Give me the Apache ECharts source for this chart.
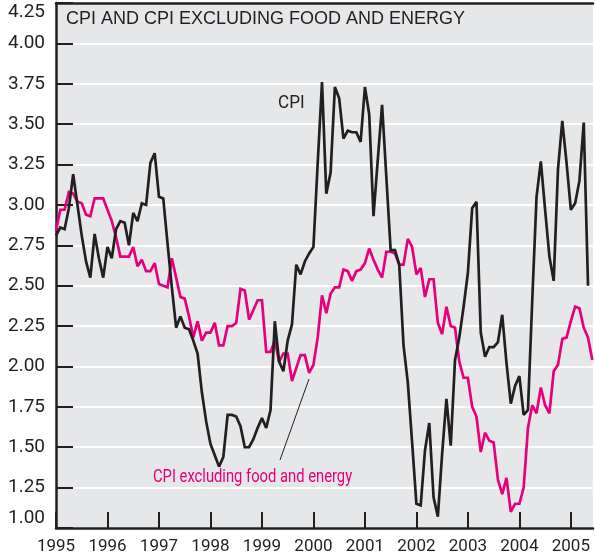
<!DOCTYPE html>
<html>
<head>
<meta charset="utf-8">
<script src="https://cdn.jsdelivr.net/npm/echarts@6/dist/echarts.min.js"></script>
<style>
html,body{margin:0;padding:0;background:#fff;}
#chart{width:595px;height:559px;}
</style>
</head>
<body>
<div id="chart"></div>
<script>
// Monthly data, January 1995 onward (12-month % change)
const startYear = 1995;
const cpi = [
  2.81, 2.86, 2.85, 2.98, 3.19, 3.00, 2.81, 2.65, 2.55, 2.82, 2.67, 2.55,
  2.74, 2.67, 2.85, 2.90, 2.89, 2.75, 2.95, 2.90, 3.01, 3.00, 3.26, 3.32,
  3.05, 3.04, 2.76, 2.49, 2.24, 2.31, 2.24, 2.23, 2.16, 2.08, 1.84, 1.66,
  1.52, 1.45, 1.38, 1.44, 1.70, 1.70, 1.69, 1.63, 1.50, 1.50, 1.55, 1.62,
  1.68, 1.62, 1.73, 2.28, 2.03, 1.97, 2.16, 2.26, 2.63, 2.57, 2.65, 2.70,
  2.74, 3.26, 3.76, 3.07, 3.20, 3.73, 3.66, 3.41, 3.46, 3.45, 3.45, 3.39,
  3.73, 3.56, 2.93, 3.28, 3.62, 3.17, 2.72, 2.72, 2.63, 2.13, 1.90, 1.53,
  1.15, 1.14, 1.48, 1.65, 1.19, 1.07, 1.46, 1.80, 1.51, 2.04, 2.18, 2.37,
  2.58, 2.98, 3.02, 2.21, 2.06, 2.12, 2.12, 2.15, 2.32, 2.02, 1.77, 1.88,
  1.94, 1.70, 1.73, 2.41, 3.05, 3.27, 2.97, 2.68, 2.53, 3.22, 3.52, 3.26,
  2.97, 3.01, 3.15, 3.51, 2.50
];
const coreCpi = [
  2.84, 2.97, 2.97, 3.08, 3.07, 3.02, 3.01, 2.94, 2.93, 3.04, 3.04, 3.04,
  2.97, 2.90, 2.80, 2.68, 2.68, 2.68, 2.74, 2.62, 2.66, 2.59, 2.59, 2.64,
  2.51, 2.50, 2.49, 2.67, 2.55, 2.43, 2.42, 2.31, 2.18, 2.28, 2.16, 2.21,
  2.21, 2.27, 2.13, 2.13, 2.25, 2.25, 2.27, 2.48, 2.47, 2.29, 2.35, 2.41,
  2.41, 2.09, 2.09, 2.16, 2.03, 2.08, 2.08, 1.91, 1.99, 2.07, 2.07, 1.96,
  2.01, 2.18, 2.44, 2.33, 2.45, 2.49, 2.49, 2.60, 2.59, 2.53, 2.59, 2.60,
  2.64, 2.73, 2.66, 2.60, 2.55, 2.71, 2.71, 2.70, 2.63, 2.63, 2.79, 2.74,
  2.57, 2.61, 2.43, 2.54, 2.54, 2.27, 2.20, 2.37, 2.25, 2.24, 2.03, 1.93,
  1.93, 1.75, 1.69, 1.47, 1.59, 1.54, 1.53, 1.30, 1.21, 1.31, 1.10, 1.15,
  1.15, 1.25, 1.62, 1.76, 1.71, 1.87, 1.76, 1.71, 1.97, 2.01, 2.17, 2.18,
  2.28, 2.37, 2.36, 2.24, 2.18, 2.04
];
const yearTicks = [1995, 1996, 1997, 1998, 1999, 2000, 2001, 2002, 2003, 2004, 2005];
const titleText = 'CPI AND CPI EXCLUDING FOOD AND ENERGY';
const cpiLabel = 'CPI';
const coreLabel = 'CPI excluding food and energy';

const toPairs = arr => arr.map((v, i) => [startYear + i / 12, v]);

const INK = '#231f20';
const MAGENTA = '#e6007e';
const LABEL_FONT = "Roboto,'Liberation Sans',sans-serif";
const xMin = 1995, xMax = 2005.43;

const chart = echarts.init(document.getElementById('chart'), null, {renderer: 'canvas'});
chart.setOption({
  animation: false,
  grid: {left: 56, right: 2, top: 3, bottom: 31, show: true, backgroundColor: '#e6e7e8', borderWidth: 0},
  xAxis: [{
    type: 'value', min: xMin, max: xMax,
    axisLine: {show: true, onZero: false, lineStyle: {color: INK, width: 2.5}},
    axisTick: {show: true, inside: true, length: 16, customValues: yearTicks, lineStyle: {color: INK, width: 2}},
    axisLabel: {customValues: yearTicks, formatter: v => String(Math.round(v)), margin: 10,
      fontSize: 17, fontFamily: LABEL_FONT, color: INK},
    splitLine: {show: false}
  }, {
    type: 'value', position: 'top', min: xMin, max: xMax,
    axisLine: {show: true, onZero: false, lineStyle: {color: INK, width: 2.5}},
    axisTick: {show: false}, axisLabel: {show: false}, splitLine: {show: false}
  }],
  yAxis: {
    type: 'value', min: 1, max: 4.25, interval: 0.25,
    axisLine: {show: true, onZero: false, lineStyle: {color: INK, width: 2.5}},
    axisTick: {show: true, inside: true, length: 17, lineStyle: {color: INK, width: 2}},
    axisLabel: {formatter: v => v.toFixed(2), margin: 11, fontSize: 19, fontFamily: LABEL_FONT, color: INK,
      verticalAlignMinLabel: 'bottom', verticalAlignMaxLabel: 'top'},
    splitLine: {show: true, lineStyle: {color: '#ffffff', width: 2}}
  },
  series: [{
    name: coreLabel, type: 'line', data: toPairs(coreCpi), showSymbol: false,
    lineStyle: {color: MAGENTA, width: 2.7, join: 'miter', miterLimit: 2}, z: 2
  }, {
    name: cpiLabel, type: 'line', data: toPairs(cpi), showSymbol: false,
    lineStyle: {color: INK, width: 2.7, join: 'miter', miterLimit: 2}, z: 3
  }],
  graphic: [
    {type: 'text', left: 66, top: 10, z: 10,
      style: {text: titleText, fontSize: 18, fontFamily: "'Liberation Sans',Arial,sans-serif", fill: INK}},
    {type: 'text', x: 278, y: 103, z: 10, scaleX: 0.9,
      style: {text: cpiLabel, fontSize: 19, fontFamily: LABEL_FONT, fill: INK, verticalAlign: 'middle'}},
    {type: 'text', x: 153, y: 477, z: 10, scaleX: 0.82,
      style: {text: coreLabel, fontSize: 18, fontFamily: LABEL_FONT, fill: MAGENTA, verticalAlign: 'middle'}},
    {type: 'line', z: 10, shape: {x1: 280, y1: 460, x2: 309, y2: 379},
      style: {stroke: INK, lineWidth: 1}}
  ]
});
</script>
</body>
</html>
